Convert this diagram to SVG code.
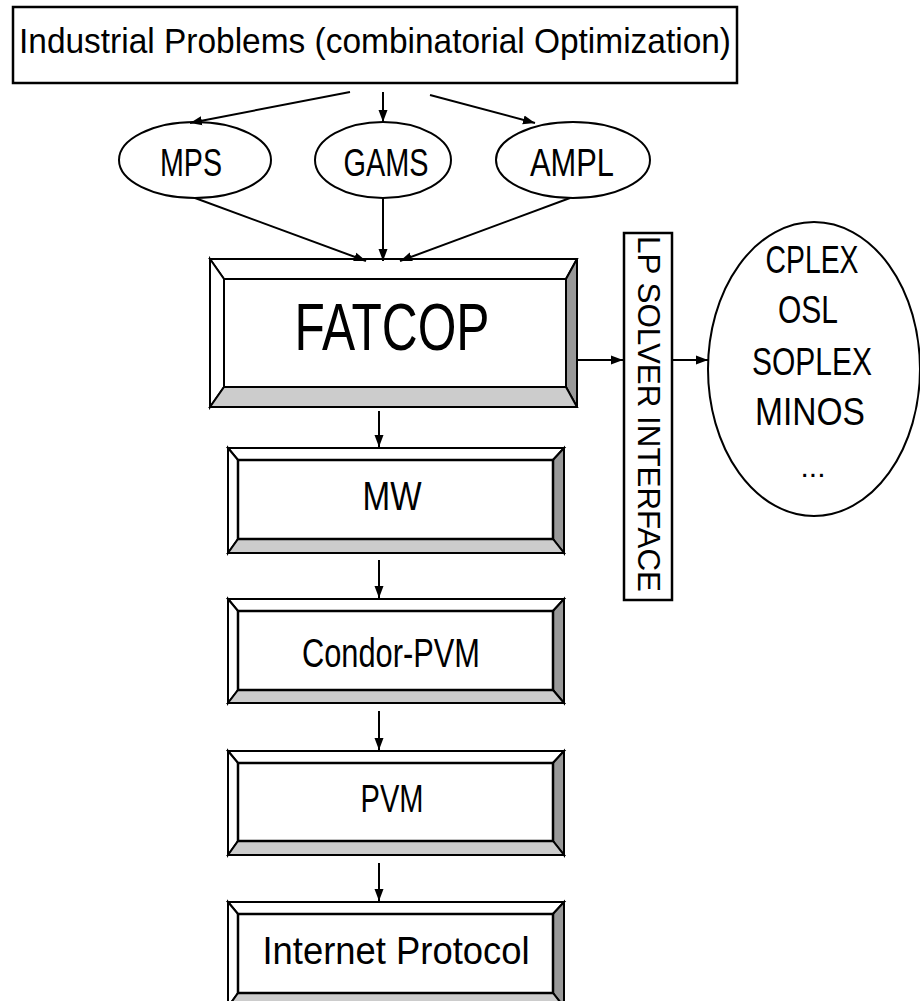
<svg xmlns="http://www.w3.org/2000/svg" width="920" height="1001" viewBox="0 0 920 1001">
<style>
text{font-family:"Liberation Sans",Arial,sans-serif;fill:#000}
.ln{stroke:#000;stroke-width:2;fill:none}
.bx{stroke:#000;stroke-width:2;stroke-linejoin:miter}
.w{fill:#fff}.dk{fill:#999}.lt{fill:#ccc}
.el{fill:#fff;stroke:#000;stroke-width:2}
</style>
<defs>
<marker id="ah" viewBox="0 0 12 10" refX="12" refY="5" markerWidth="12" markerHeight="10" markerUnits="userSpaceOnUse" orient="auto">
<path d="M0,0.5 L12,5 L0,9.5 Z" fill="#000"/>
</marker>
</defs>
<rect width="920" height="1001" fill="#fff"/>

<g id="industrial">
<rect x="13" y="7" width="724" height="76" fill="#fff" stroke="#000" stroke-width="2.5"/>
<text x="375" y="53" font-size="35" text-anchor="middle" textLength="712" lengthAdjust="spacingAndGlyphs">Industrial Problems (combinatorial Optimization)</text>
</g>

<g id="mps">
<ellipse class="el" cx="195" cy="160" rx="76" ry="38"/>
<text x="191" y="176" font-size="38" text-anchor="middle" textLength="62" lengthAdjust="spacingAndGlyphs">MPS</text>
</g>
<g id="gams">
<ellipse class="el" cx="383" cy="160" rx="68" ry="38"/>
<text x="386" y="176" font-size="38" text-anchor="middle" textLength="85" lengthAdjust="spacingAndGlyphs">GAMS</text>
</g>
<g id="ampl">
<ellipse class="el" cx="573" cy="160" rx="77" ry="38"/>
<text x="572" y="176" font-size="38" text-anchor="middle" textLength="84" lengthAdjust="spacingAndGlyphs">AMPL</text>
</g>

<g id="fatcop">
<rect x="210" y="259" width="367" height="148" fill="#fff"/>
<polygon class="bx w" points="210,259 577,259 566,279 224,279"/>
<polygon class="bx w" points="210,259 224,279 224,387 210,407"/>
<polygon class="bx dk" points="577,259 577,407 566,387 566,279"/>
<polygon class="bx lt" points="210,407 224,387 566,387 577,407"/>
<text x="392" y="350" font-size="66" text-anchor="middle" textLength="195" lengthAdjust="spacingAndGlyphs">FATCOP</text>
</g>

<g id="lpsolver">
<rect x="624" y="233" width="48" height="367" fill="#fff" stroke="#000" stroke-width="2.5"/>
<text transform="translate(638,414) rotate(90)" font-size="31" text-anchor="middle" textLength="356" lengthAdjust="spacingAndGlyphs">LP SOLVER INTERFACE</text>
</g>

<g id="solvers">
<ellipse class="el" cx="814" cy="369" rx="106" ry="147"/>
<text x="812" y="273" font-size="38" text-anchor="middle" textLength="93" lengthAdjust="spacingAndGlyphs">CPLEX</text>
<text x="808" y="323" font-size="38" text-anchor="middle" textLength="60" lengthAdjust="spacingAndGlyphs">OSL</text>
<text x="812" y="375" font-size="38" text-anchor="middle" textLength="120" lengthAdjust="spacingAndGlyphs">SOPLEX</text>
<text x="810" y="425" font-size="38" text-anchor="middle" textLength="110" lengthAdjust="spacingAndGlyphs">MINOS</text>
<text x="813" y="477" font-size="30" text-anchor="middle">...</text>
</g>

<g id="mw">
<polygon class="bx w" points="228,448 564,448 553,460 238,460"/>
<polygon class="bx w" points="228,448 238,460 238,539 228,553"/>
<polygon class="bx dk" points="564,448 564,553 553,539 553,460"/>
<polygon class="bx lt" points="228,553 238,539 553,539 564,553"/>
<rect x="238" y="460" width="315" height="79" fill="#fff" stroke="#000" stroke-width="2.5"/>
<text x="392" y="510" font-size="40" text-anchor="middle" textLength="59" lengthAdjust="spacingAndGlyphs">MW</text>
</g>

<g id="condor">
<polygon class="bx w" points="228,599 564,599 553,611 238,611"/>
<polygon class="bx w" points="228,599 238,611 238,690 228,703"/>
<polygon class="bx dk" points="564,599 564,703 553,690 553,611"/>
<polygon class="bx lt" points="228,703 238,690 553,690 564,703"/>
<rect x="238" y="611" width="315" height="79" fill="#fff" stroke="#000" stroke-width="2.5"/>
<text x="391" y="667" font-size="40" text-anchor="middle" textLength="178" lengthAdjust="spacingAndGlyphs">Condor-PVM</text>
</g>

<g id="pvm">
<polygon class="bx w" points="228,751 564,751 553,763 238,763"/>
<polygon class="bx w" points="228,751 238,763 238,841 228,855"/>
<polygon class="bx dk" points="564,751 564,855 553,841 553,763"/>
<polygon class="bx lt" points="228,855 238,841 553,841 564,855"/>
<rect x="238" y="763" width="315" height="78" fill="#fff" stroke="#000" stroke-width="2.5"/>
<text x="392" y="812" font-size="38" text-anchor="middle" textLength="63" lengthAdjust="spacingAndGlyphs">PVM</text>
</g>

<g id="internet">
<polygon class="bx w" points="228,902 564,902 553,914 238,914"/>
<polygon class="bx w" points="228,902 238,914 238,993 228,1007"/>
<polygon class="bx dk" points="564,902 564,1007 553,993 553,914"/>
<polygon class="bx lt" points="228,1007 238,993 553,993 564,1007"/>
<rect x="238" y="914" width="315" height="79" fill="#fff" stroke="#000" stroke-width="2.5"/>
<text x="396" y="964" font-size="38" text-anchor="middle" textLength="267" lengthAdjust="spacingAndGlyphs">Internet Protocol</text>
</g>

<g id="connectors">
<line class="ln" x1="350" y1="92" x2="190" y2="123" marker-end="url(#ah)"/>
<line class="ln" x1="383" y1="92" x2="383" y2="122" marker-end="url(#ah)"/>
<line class="ln" x1="430" y1="95" x2="535" y2="123" marker-end="url(#ah)"/>
<line class="ln" x1="195" y1="198" x2="366" y2="261" marker-end="url(#ah)"/>
<line class="ln" x1="383" y1="198" x2="383" y2="261" marker-end="url(#ah)"/>
<line class="ln" x1="570" y1="198" x2="400" y2="261" marker-end="url(#ah)"/>
<line class="ln" x1="577" y1="360" x2="623" y2="360" marker-end="url(#ah)"/>
<line class="ln" x1="672" y1="360" x2="708" y2="360" marker-end="url(#ah)"/>
<line class="ln" x1="379" y1="411" x2="379" y2="447" marker-end="url(#ah)"/>
<line class="ln" x1="379" y1="560" x2="379" y2="598" marker-end="url(#ah)"/>
<line class="ln" x1="379" y1="711" x2="379" y2="750" marker-end="url(#ah)"/>
<line class="ln" x1="379" y1="863" x2="379" y2="901" marker-end="url(#ah)"/>
</g>
</svg>
